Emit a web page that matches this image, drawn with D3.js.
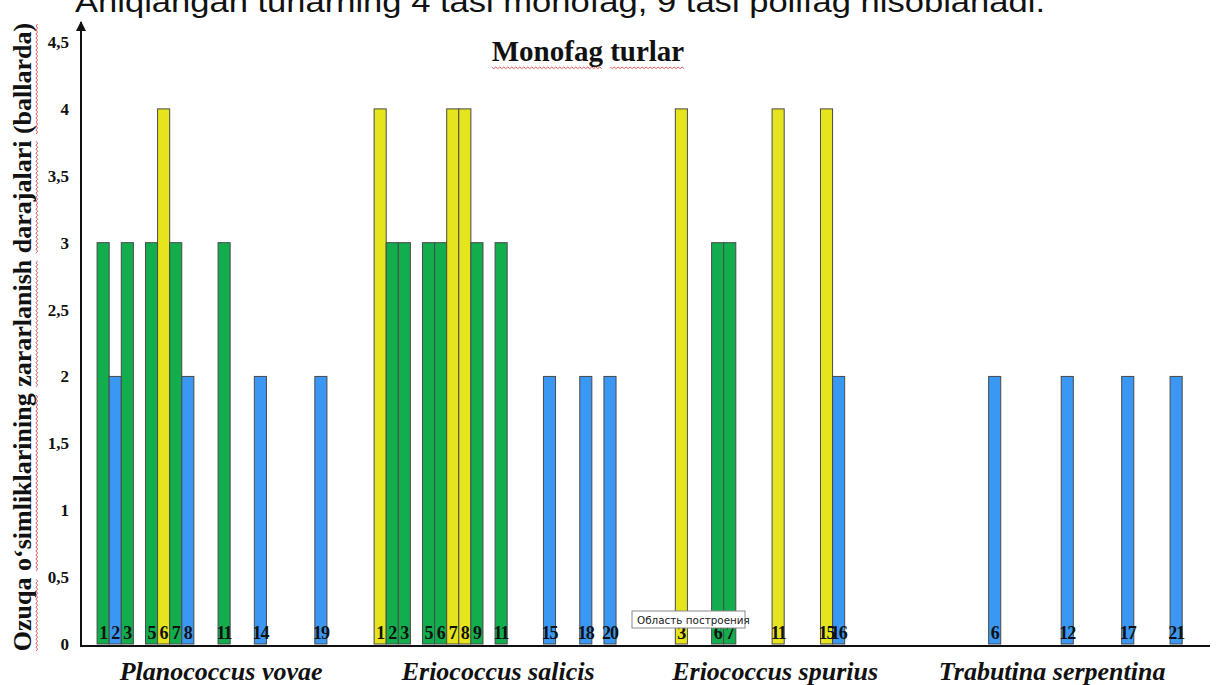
<!DOCTYPE html>
<html>
<head>
<meta charset="utf-8">
<script src="https://cdn.jsdelivr.net/npm/d3@7"></script>
<style>
  html, body { margin: 0; padding: 0; background: #fff; }
  svg { display: block; }
</style>
</head>
<body>
<svg id="chart" width="1218" height="685"></svg>
<script>
// Species groups along the x axis
const groups = ["Planococcus vovae", "Eriococcus salicis", "Eriococcus spurius", "Trabutina serpentina"];

// Host plant numbers (slot within each group) and damage scores
const plantsVovae = [1, 2, 3, 5, 6, 7, 8, 11, 14, 19];
const scoresVovae = [3, 2, 3, 3, 4, 3, 2, 3, 2, 2];

const plantsSalicis = [1, 2, 3, 5, 6, 7, 8, 9, 11, 15, 18, 20];
const scoresSalicis = [4, 3, 3, 3, 3, 4, 4, 3, 3, 2, 2, 2];

const plantsSpurius = [3, 6, 7, 11, 15, 16];
const scoresSpurius = [4, 3, 3, 4, 4, 2];

const plantsSerpentina = [6, 12, 17, 21];
const scoresSerpentina = [2, 2, 2, 2];

const yTicks = [0, 0.5, 1, 1.5, 2, 2.5, 3, 3.5, 4, 4.5];

const headerText = "Aniqlangan turlarning  4 tasi monofag, 9 tasi polifag hisoblanadi.";
const chartTitle = "Monofag turlar";
const yTitle = "Ozuqa o\u2018simliklarining zararlanish darajalari (ballarda)";

const plantLists = [plantsVovae, plantsSalicis, plantsSpurius, plantsSerpentina];
const scoreLists = [scoresVovae, scoresSalicis, scoresSpurius, scoresSerpentina];

// Score -> fill colour
const colorScale = d3.scaleOrdinal()
  .domain([2, 3, 4])
  .range(["#3a97f4", "#12ae4e", "#e6e41c"]);

const bars = [];
plantLists.forEach((plants, g) => {
  plants.forEach((p, i) => bars.push({ group: g, plant: p, score: scoreLists[g][i] }));
});

const svg = d3.select("#chart");
const serif = "'Liberation Serif', 'Times New Roman', serif";

const axisX = 81, axisRight = 1210, baseY = 646;
const groupSpan = 22.9;   // slots per group incl. gap
const slotsPerGroup = 21;

// Continuous slot coordinate -> pixels
const x = d3.scaleLinear().domain([-1.33, 92]).range([axisX, axisRight]);
const slotW = x(1) - x(0);
const slotPos = (g, p) => g * groupSpan + (p - 1);

const y = d3.scaleLinear().domain([0, 4.5]).range([644, 42]);

// Header line (runs off the top edge)
svg.append("text")
  .attr("x", 75).attr("y", 12)
  .attr("font-family", "'Liberation Sans', Arial, sans-serif")
  .attr("font-size", 29)
  .attr("textLength", 970)
  .attr("lengthAdjust", "spacingAndGlyphs")
  .attr("fill", "#111")
  .text(headerText);

// Wavy spell-check underline along a horizontal run (local coords)
function squiggle(x0, x1, yy) {
  const pts = [];
  let up = true;
  for (let xx = x0; xx <= x1; xx += 2) { pts.push([xx, yy + (up ? 0 : 1.6)]); up = !up; }
  return d3.line()(pts);
}

// Underline every word of a text element with a red squiggle
function underlineWords(textSel, parent, offsetY) {
  const node = textSel.node();
  const str = node.textContent;
  const total = node.getComputedTextLength();
  const anchorShift = textSel.attr("text-anchor") === "middle" ? -total / 2 : 0;
  const x0 = +(textSel.attr("x") || 0) + anchorShift;
  const y0 = +(textSel.attr("y") || 0);
  const re = /\S+/g;
  let m;
  while ((m = re.exec(str)) !== null) {
    const s = node.getSubStringLength(0, m.index);
    const w = node.getSubStringLength(m.index, m[0].length);
    parent.append("path")
      .attr("d", squiggle(x0 + s, x0 + s + w, y0 + offsetY))
      .attr("fill", "none")
      .attr("stroke", "#d63030")
      .attr("stroke-width", 0.8);
  }
}

// Bars
svg.append("g").selectAll("rect")
  .data(bars)
  .join("rect")
  .attr("x", d => x(slotPos(d.group, d.plant)))
  .attr("y", d => y(d.score))
  .attr("width", slotW)
  .attr("height", d => y(0) - y(d.score))
  .attr("fill", d => colorScale(d.score))
  .attr("stroke", "#4a4a4a")
  .attr("stroke-width", 1);

// Plant numbers at the foot of each bar
svg.append("g").selectAll("text")
  .data(bars)
  .join("text")
  .attr("x", d => x(slotPos(d.group, d.plant)) + slotW / 2)
  .attr("y", 639)
  .attr("text-anchor", "middle")
  .attr("font-family", serif)
  .attr("font-weight", "bold")
  .attr("font-size", 18)
  .attr("letter-spacing", -1)
  .attr("fill", "#111")
  .text(d => d.plant);

// Y axis with comma decimals
const yAxis = d3.axisLeft(y)
  .tickValues(yTicks)
  .tickSize(0)
  .tickPadding(12)
  .tickFormat(d => String(d).replace(".", ","));
const yg = svg.append("g").attr("transform", `translate(${axisX},0)`).call(yAxis);
yg.select(".domain").remove();
yg.selectAll("text")
  .attr("font-family", serif)
  .attr("font-weight", "bold")
  .attr("font-size", 17)
  .attr("fill", "#111");

// Y axis line with arrow
svg.append("defs").append("marker")
  .attr("id", "arrow")
  .attr("viewBox", "0 0 10 10")
  .attr("refX", 9).attr("refY", 5)
  .attr("markerWidth", 6).attr("markerHeight", 5)
  .attr("orient", "auto")
  .append("path")
  .attr("d", "M0,0 L10,5 L0,10 Z")
  .attr("fill", "#111");
svg.append("line")
  .attr("x1", axisX).attr("x2", axisX)
  .attr("y1", baseY).attr("y2", 22)
  .attr("stroke", "#111").attr("stroke-width", 2)
  .attr("marker-end", "url(#arrow)");

// X axis baseline
svg.append("line")
  .attr("x1", axisX - 1).attr("x2", axisRight)
  .attr("y1", baseY).attr("y2", baseY)
  .attr("stroke", "#111").attr("stroke-width", 2);

// Group labels
svg.append("g").selectAll("text")
  .data(groups)
  .join("text")
  .attr("x", (d, g) => x(g * groupSpan + (slotsPerGroup - 1) / 2) + slotW / 2 - 3)
  .attr("y", 680)
  .attr("text-anchor", "middle")
  .attr("font-family", serif)
  .attr("font-weight", "bold")
  .attr("font-style", "italic")
  .attr("font-size", 26)
  .attr("fill", "#111")
  .text(d => d);

// Chart title
const titleG = svg.append("g");
const title = titleG.append("text")
  .attr("x", 588).attr("y", 61)
  .attr("text-anchor", "middle")
  .attr("font-family", serif)
  .attr("font-weight", "bold")
  .attr("font-size", 29)
  .attr("fill", "#111")
  .text(chartTitle);
underlineWords(title, titleG, 6);

// Y axis title
const yTitleG = svg.append("g").attr("transform", "translate(31,337) rotate(-90)");
const yTitleText = yTitleG.append("text")
  .attr("x", 0).attr("y", 0)
  .attr("text-anchor", "middle")
  .attr("font-family", serif)
  .attr("font-weight", "bold")
  .attr("font-size", 26)
  .attr("fill", "#111")
  .text(yTitle);
underlineWords(yTitleText, yTitleG, 5);

// Hover hint box
const tip = svg.append("g").attr("transform", "translate(632,611)");
tip.append("rect")
  .attr("width", 113).attr("height", 17)
  .attr("fill", "#fff")
  .attr("stroke", "#8a8a8a").attr("stroke-width", 1);
tip.append("text")
  .attr("x", 5).attr("y", 12.5)
  .attr("font-family", "'DejaVu Sans', 'Noto Sans', sans-serif")
  .attr("font-size", 10.4)
  .attr("fill", "#222")
  .text("Область построения");
</script>
</body>
</html>
